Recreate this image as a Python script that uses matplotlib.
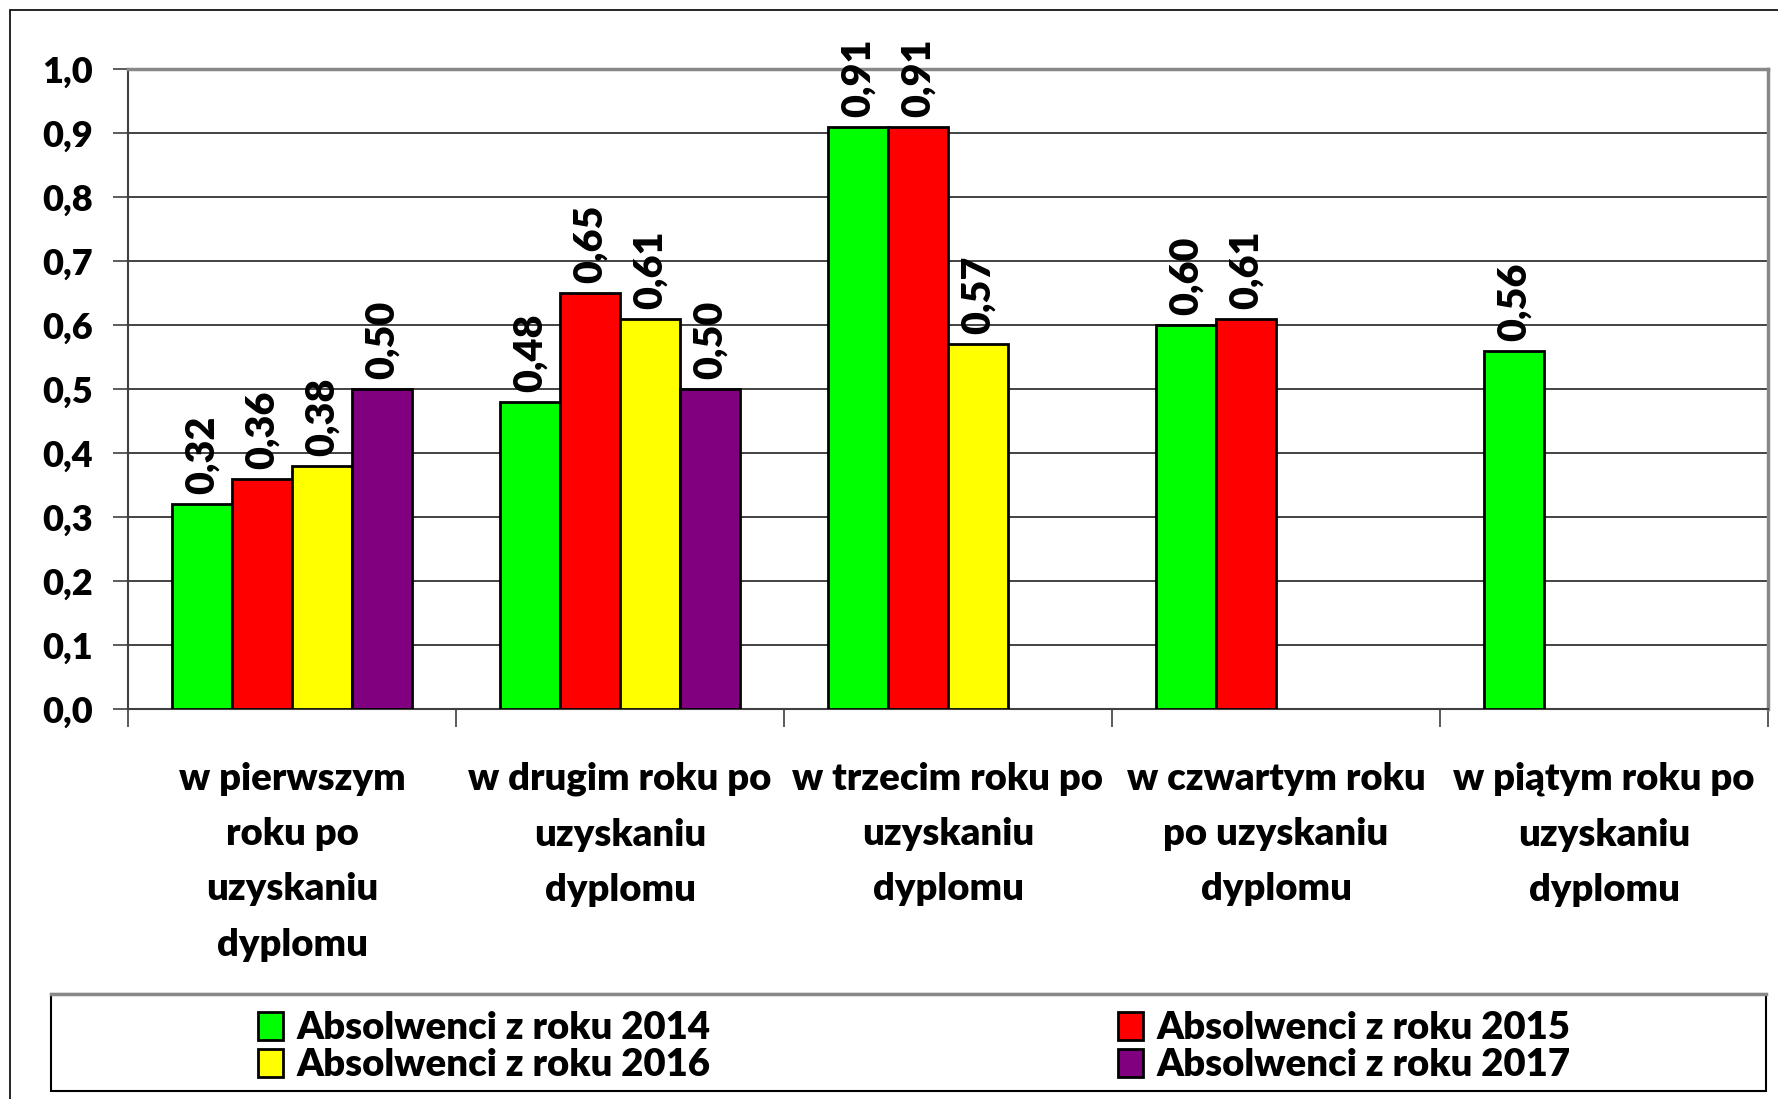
import numpy as np
import matplotlib
matplotlib.use("Agg")
import matplotlib.pyplot as plt
import matplotlib.patches as patches
from matplotlib.lines import Line2D

plt.rcParams['font.family'] = ['Lato', 'DejaVu Sans']
plt.rcParams['font.weight'] = 'heavy'

# data
categories = [
    "w pierwszym\nroku po\nuzyskaniu\ndyplomu",
    "w drugim roku po\nuzyskaniu\ndyplomu",
    "w trzecim roku po\nuzyskaniu\ndyplomu",
    "w czwartym roku\npo uzyskaniu\ndyplomu",
    "w piątym roku po\nuzyskaniu\ndyplomu",
]
series_names = ["Absolwenci z roku 2014", "Absolwenci z roku 2015",
                "Absolwenci z roku 2016", "Absolwenci z roku 2017"]
vals_2014 = [0.32, 0.48, 0.91, 0.60, 0.56]
vals_2015 = [0.36, 0.65, 0.91, 0.61, None]
vals_2016 = [0.38, 0.61, 0.57, None, None]
vals_2017 = [0.50, 0.50, None, None, None]
colors = ["#00FF00", "#FF0000", "#FFFF00", "#800080"]
yticks = [0.0, 0.1, 0.2, 0.3, 0.4, 0.5, 0.6, 0.7, 0.8, 0.9, 1.0]
ytick_labels = ["0,0", "0,1", "0,2", "0,3", "0,4", "0,5", "0,6", "0,7", "0,8", "0,9", "1,0"]

W, H = 1778, 1099
FW = "heavy"
fig = plt.figure(figsize=(W / 100, H / 100), dpi=100)
ax = fig.add_axes([128 / W, 1 - 709 / H, (1768 - 128) / W, (709 - 69) / H])

# outer chart border (cut off on right/bottom like the original)
fig.patches.append(patches.Rectangle((10 / W, -0.1), 1.2, 1 - 10 / H + 0.1,
                                     transform=fig.transFigure, fill=False,
                                     edgecolor="black", linewidth=1.2, zorder=0))

x = np.arange(len(categories))
bw = 0.183
all_series = [vals_2014, vals_2015, vals_2016, vals_2017]
handles = []
for i, (vals, col, name) in enumerate(zip(all_series, colors, series_names)):
    off = (i - 1.5) * bw
    xs = [xi + off for xi, v in zip(x, vals) if v is not None]
    hs = [v for v in vals if v is not None]
    bars = ax.bar(xs, hs, width=bw, color=col, edgecolor="black",
                  linewidth=2, zorder=3, label=name)
    handles.append(bars)
    for xx, hh in zip(xs, hs):
        ax.annotate(f"{hh:.2f}".replace(".", ","), (xx, hh), xytext=(0, 7),
                    textcoords="offset points", rotation=90, ha="center",
                    va="bottom", fontsize=28.5, fontweight=FW)

ax.set_xlim(-0.5, len(categories) - 0.5)
ax.set_ylim(0, 1.0)
ax.set_yticks(yticks)
ax.set_yticklabels(ytick_labels, fontsize=26, fontweight=FW)
ax.set_xticks(x)
ax.set_xticklabels(categories, fontsize=27.5, fontweight=FW, linespacing=1.76)
ax.set_xticks(np.arange(-0.5, len(categories)), minor=True)
ax.tick_params(axis="x", which="major", length=0, pad=38)
ax.tick_params(axis="x", which="minor", length=13, width=1.2, color="#404040", direction="out")
ax.tick_params(axis="y", length=11, width=1.2, color="#404040", direction="out", pad=14)

ax.yaxis.grid(True, color="#222222", linewidth=1.2, zorder=0)
ax.set_axisbelow(True)
for s in ["left", "bottom"]:
    ax.spines[s].set_color("#404040")
    ax.spines[s].set_linewidth(1.5)
for s in ["top", "right"]:
    ax.spines[s].set_color("#888888")
    ax.spines[s].set_linewidth(2.5)

# legend frame
fig.patches.append(patches.Rectangle((51 / W, 1 - 1091 / H), (1766 - 51) / W, (1091 - 994) / H,
                                     transform=fig.transFigure, fill=False,
                                     edgecolor="black", linewidth=1.5, zorder=1))
fig.lines.append(Line2D([51 / W, 1766 / W], [1 - 994 / H, 1 - 994 / H],
                        transform=fig.transFigure, color="#888888", linewidth=2.5))

leg_kw = dict(frameon=False, handlelength=0.65, handleheight=0.75,
              handletextpad=0.35, labelspacing=0.08, borderpad=0, borderaxespad=0,
              prop={"weight": FW, "size": 27.5})
leg1 = fig.legend([handles[0], handles[2]], [series_names[0], series_names[2]],
                  loc="upper left", bbox_to_anchor=(258 / W, 1 - 1011 / H), **leg_kw)
leg2 = fig.legend([handles[1], handles[3]], [series_names[1], series_names[3]],
                  loc="upper left", bbox_to_anchor=(1118 / W, 1 - 1011 / H), **leg_kw)

fig.savefig("out.png", dpi=100)
